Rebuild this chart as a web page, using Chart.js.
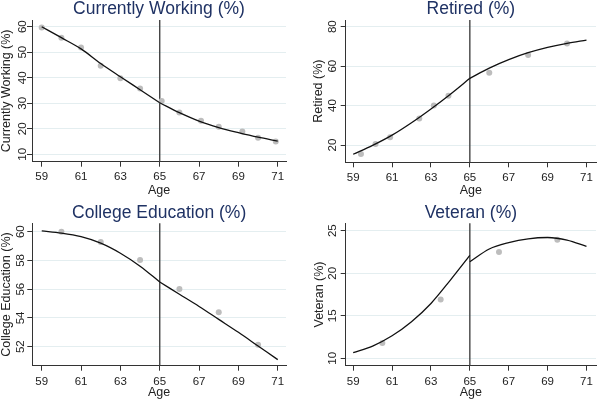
<!DOCTYPE html>
<html>
<head>
<meta charset="utf-8">
<script src="https://cdn.jsdelivr.net/npm/chart.js@4.4.1/dist/chart.umd.min.js"></script>
<style>
    html, body { margin: 0; padding: 0; background: #fff; }
    #wrap { position: relative; width: 600px; height: 401px; overflow: hidden; }
    canvas { position: absolute; }
</style>
</head>
<body>
<div id="wrap">
    <canvas id="cWork" width="300" height="200" style="left:0;top:0"></canvas>
    <canvas id="cRetired" width="300" height="200" style="left:300px;top:0"></canvas>
    <canvas id="cCollege" width="300" height="201" style="left:0;top:200px"></canvas>
    <canvas id="cVeteran" width="300" height="201" style="left:300px;top:200px"></canvas>
</div>
<script>
// x axis: age, cutoff at 65
var ageTicks = [59, 61, 63, 65, 67, 69, 71];
var cutoffAge = 65;
var fitAgesLeft = [59, 60, 61, 62, 63, 64, 65];
var fitAgesRight = [65, 66, 67, 68, 69, 70, 71];

// Currently Working (%)
var workAges = [59, 60, 61, 62, 63, 64, 65.1, 66, 67.1, 68, 69.2, 70, 70.9];
var workPct = [59.7, 55.7, 51.9, 44.7, 39.8, 35.8, 30.9, 26.4, 23.1, 20.8, 18.9, 16.5, 15.0];
var workFitLeft = [60, 55.7, 51.3, 45.6, 40.4, 35.3, 30.2];
var workFitRight = [30.2, 26.3, 23.0, 20.5, 18.5, 16.7, 15.2];
var workTicks = [10, 20, 30, 40, 50, 60];

// Retired (%)
var retAges = [59.4, 60.15, 60.9, 62.4, 63.15, 63.9, 66, 68, 70];
var retPct = [15.4, 20.5, 23.9, 33.4, 40.1, 45.0, 56.7, 65.6, 71.5];
var retFitLeft = [15.3, 19.8, 25.0, 31.3, 38.3, 45.8, 53.8];
var retFitRight = [53.8, 59.0, 63.3, 66.8, 69.5, 71.6, 73.2];
var retTicks = [20, 40, 60, 80];

// College Education (%)
var colAges = [60, 62, 64, 66, 68, 70];
var colPct = [60.0, 59.28, 58.03, 56.01, 54.4, 52.13];
var colFitLeft = [60.05, 59.9, 59.65, 59.2, 58.5, 57.6, 56.5];
var colFitRight = [56.5, 55.65, 54.8, 53.9, 53.0, 52.05, 51.1];
var colTicks = [52, 54, 56, 58, 60];

// Veteran (%)
var vetAges = [60.5, 63.5, 66.5, 69.5];
var vetPct = [11.8, 16.9, 22.5, 23.95];
var vetFitLeft = [10.66, 11.44, 12.65, 14.3, 16.45, 19.2, 22.1];
var vetFitRight = [21.35, 22.85, 23.6, 24.05, 24.2, 23.9, 23.15];
var vetTicks = [10, 15, 20, 25];

var fontFamily = "'Liberation Sans', Arial, sans-serif";

var toPoints = function (xs, ys) {
    return xs.map(function (x, i) { return {x: x, y: ys[i]}; });
};

var tickList = function (values) {
    return function (axis) {
        axis.ticks = values.map(function (v) { return {value: v}; });
    };
};

// vertical line at the cutoff age
var cutoffLine = {
    id: 'cutoffLine',
    beforeDatasetsDraw: function (chart) {
        var x = chart.scales.x.getPixelForValue(cutoffAge);
        var area = chart.chartArea;
        var ctx = chart.ctx;
        ctx.save();
        ctx.strokeStyle = '#444';
        ctx.lineWidth = 1.4;
        ctx.beginPath();
        ctx.moveTo(x, area.top);
        ctx.lineTo(x, area.bottom);
        ctx.stroke();
        ctx.restore();
    }
};

// y tick labels turned 90 degrees, like Stata does
var rotatedYLabels = {
    id: 'rotatedYLabels',
    afterDraw: function (chart, args, opts) {
        var scale = chart.scales.y;
        var ctx = chart.ctx;
        ctx.save();
        ctx.fillStyle = '#222';
        ctx.font = '11.5px ' + fontFamily;
        ctx.textAlign = 'center';
        ctx.textBaseline = 'middle';
        scale.ticks.forEach(function (t) {
            ctx.save();
            ctx.translate(opts.x, scale.getPixelForValue(t.value));
            ctx.rotate(-Math.PI / 2);
            ctx.fillText(String(t.value), 0, 0);
            ctx.restore();
        });
        ctx.restore();
    }
};

var makePanel = function (id, title, yLabel, ages, pct, fitLeft, fitRight, yTicks, box) {
    var fitStyle = {
        type: 'line', borderColor: '#111', borderWidth: 1.3, pointRadius: 0,
        cubicInterpolationMode: 'monotone', fill: false, order: 1
    };
    var ctx = document.getElementById(id).getContext('2d');
    return new Chart(ctx, {
        type: 'scatter',
        data: {
            datasets: [
                Object.assign({data: toPoints(fitAgesLeft, fitLeft)}, fitStyle),
                Object.assign({data: toPoints(fitAgesRight, fitRight)}, fitStyle),
                {
                    data: toPoints(ages, pct),
                    backgroundColor: '#bdbdbd', borderWidth: 0, pointRadius: 3, order: 2
                }
            ]
        },
        plugins: [cutoffLine, rotatedYLabels],
        options: {
            responsive: false,
            animation: false,
            layout: {padding: {left: 0, right: box.padRight, top: 0, bottom: 0}},
            plugins: {
                legend: {display: false},
                tooltip: {enabled: false},
                rotatedYLabels: {x: box.yLabelX},
                title: {
                    display: true, text: title, color: '#1f3264', fullSize: false,
                    font: {family: fontFamily, size: 17.5, weight: 'normal', lineHeight: 1},
                    padding: {top: box.titleTop, bottom: box.titleBottom}
                }
            },
            scales: {
                x: {
                    type: 'linear', min: box.xMin, max: box.xMax, bounds: 'data',
                    afterBuildTicks: tickList(ageTicks),
                    afterFit: function (axis) { axis.height = box.xHeight; },
                    grid: {drawOnChartArea: false, tickLength: 5, tickColor: '#333'},
                    border: {color: '#333', width: 1},
                    ticks: {
                        color: '#222', font: {family: fontFamily, size: 11.5},
                        padding: box.xTickPad, maxRotation: 0, autoSkip: false
                    },
                    title: {
                        display: true, text: 'Age', color: '#222',
                        font: {family: fontFamily, size: 12.5, lineHeight: 1},
                        padding: {top: 0, bottom: box.xTitlePad}
                    }
                },
                y: {
                    type: 'linear', min: box.yMin, max: box.yMax, bounds: 'data',
                    afterBuildTicks: tickList(yTicks),
                    afterFit: function (axis) { axis.width = box.yWidth; },
                    grid: {color: '#e4eef0', tickLength: 5, tickColor: '#333'},
                    border: {color: '#333', width: 1},
                    ticks: {display: false},
                    title: {
                        display: true, text: yLabel, color: '#222',
                        font: {family: fontFamily, size: 12.5, lineHeight: 1},
                        padding: {top: box.yTitlePad, bottom: 0}
                    }
                }
            }
        }
    });
};

makePanel('cWork', 'Currently Working (%)', 'Currently Working (%)',
    workAges, workPct, workFitLeft, workFitRight, workTicks,
    {xMin: 58.507, xMax: 71.42, yMin: 7.1, yMax: 62.63, padRight: 14,
     yWidth: 32, xHeight: 38.3, titleTop: 0, titleBottom: 2.5,
     xTickPad: 3.5, xTitlePad: 3.5, yLabelX: 22.5, yTitlePad: 0});

makePanel('cRetired', 'Retired (%)', 'Retired (%)',
    retAges, retPct, retFitLeft, retFitRight, retTicks,
    {xMin: 58.615, xMax: 71.49, yMin: 11.23, yMax: 83.4, padRight: 0,
     yWidth: 45.7, xHeight: 37.7, titleTop: 0, titleBottom: 2.5,
     xTickPad: 3.5, xTitlePad: 3.5, yLabelX: 32.5, yTitlePad: 12.75});

makePanel('cCollege', 'College Education (%)', 'College Education (%)',
    colAges, colPct, colFitLeft, colFitRight, colTicks,
    {xMin: 58.52, xMax: 71.42, yMin: 50.68, yMax: 60.58, padRight: 14,
     yWidth: 32.3, xHeight: 35.3, titleTop: 4, titleBottom: 1.8,
     xTickPad: 4, xTitlePad: 2, yLabelX: 20.8, yTitlePad: 0});

makePanel('cVeteran', 'Veteran (%)', 'Veteran (%)',
    vetAges, vetPct, vetFitLeft, vetFitRight, vetTicks,
    {xMin: 58.615, xMax: 71.49, yMin: 9.13, yMax: 25.87, padRight: 0,
     yWidth: 45.7, xHeight: 35.3, titleTop: 4, titleBottom: 1.8,
     xTickPad: 4, xTitlePad: 2, yLabelX: 32.5, yTitlePad: 13.25});
</script>
</body>
</html>
